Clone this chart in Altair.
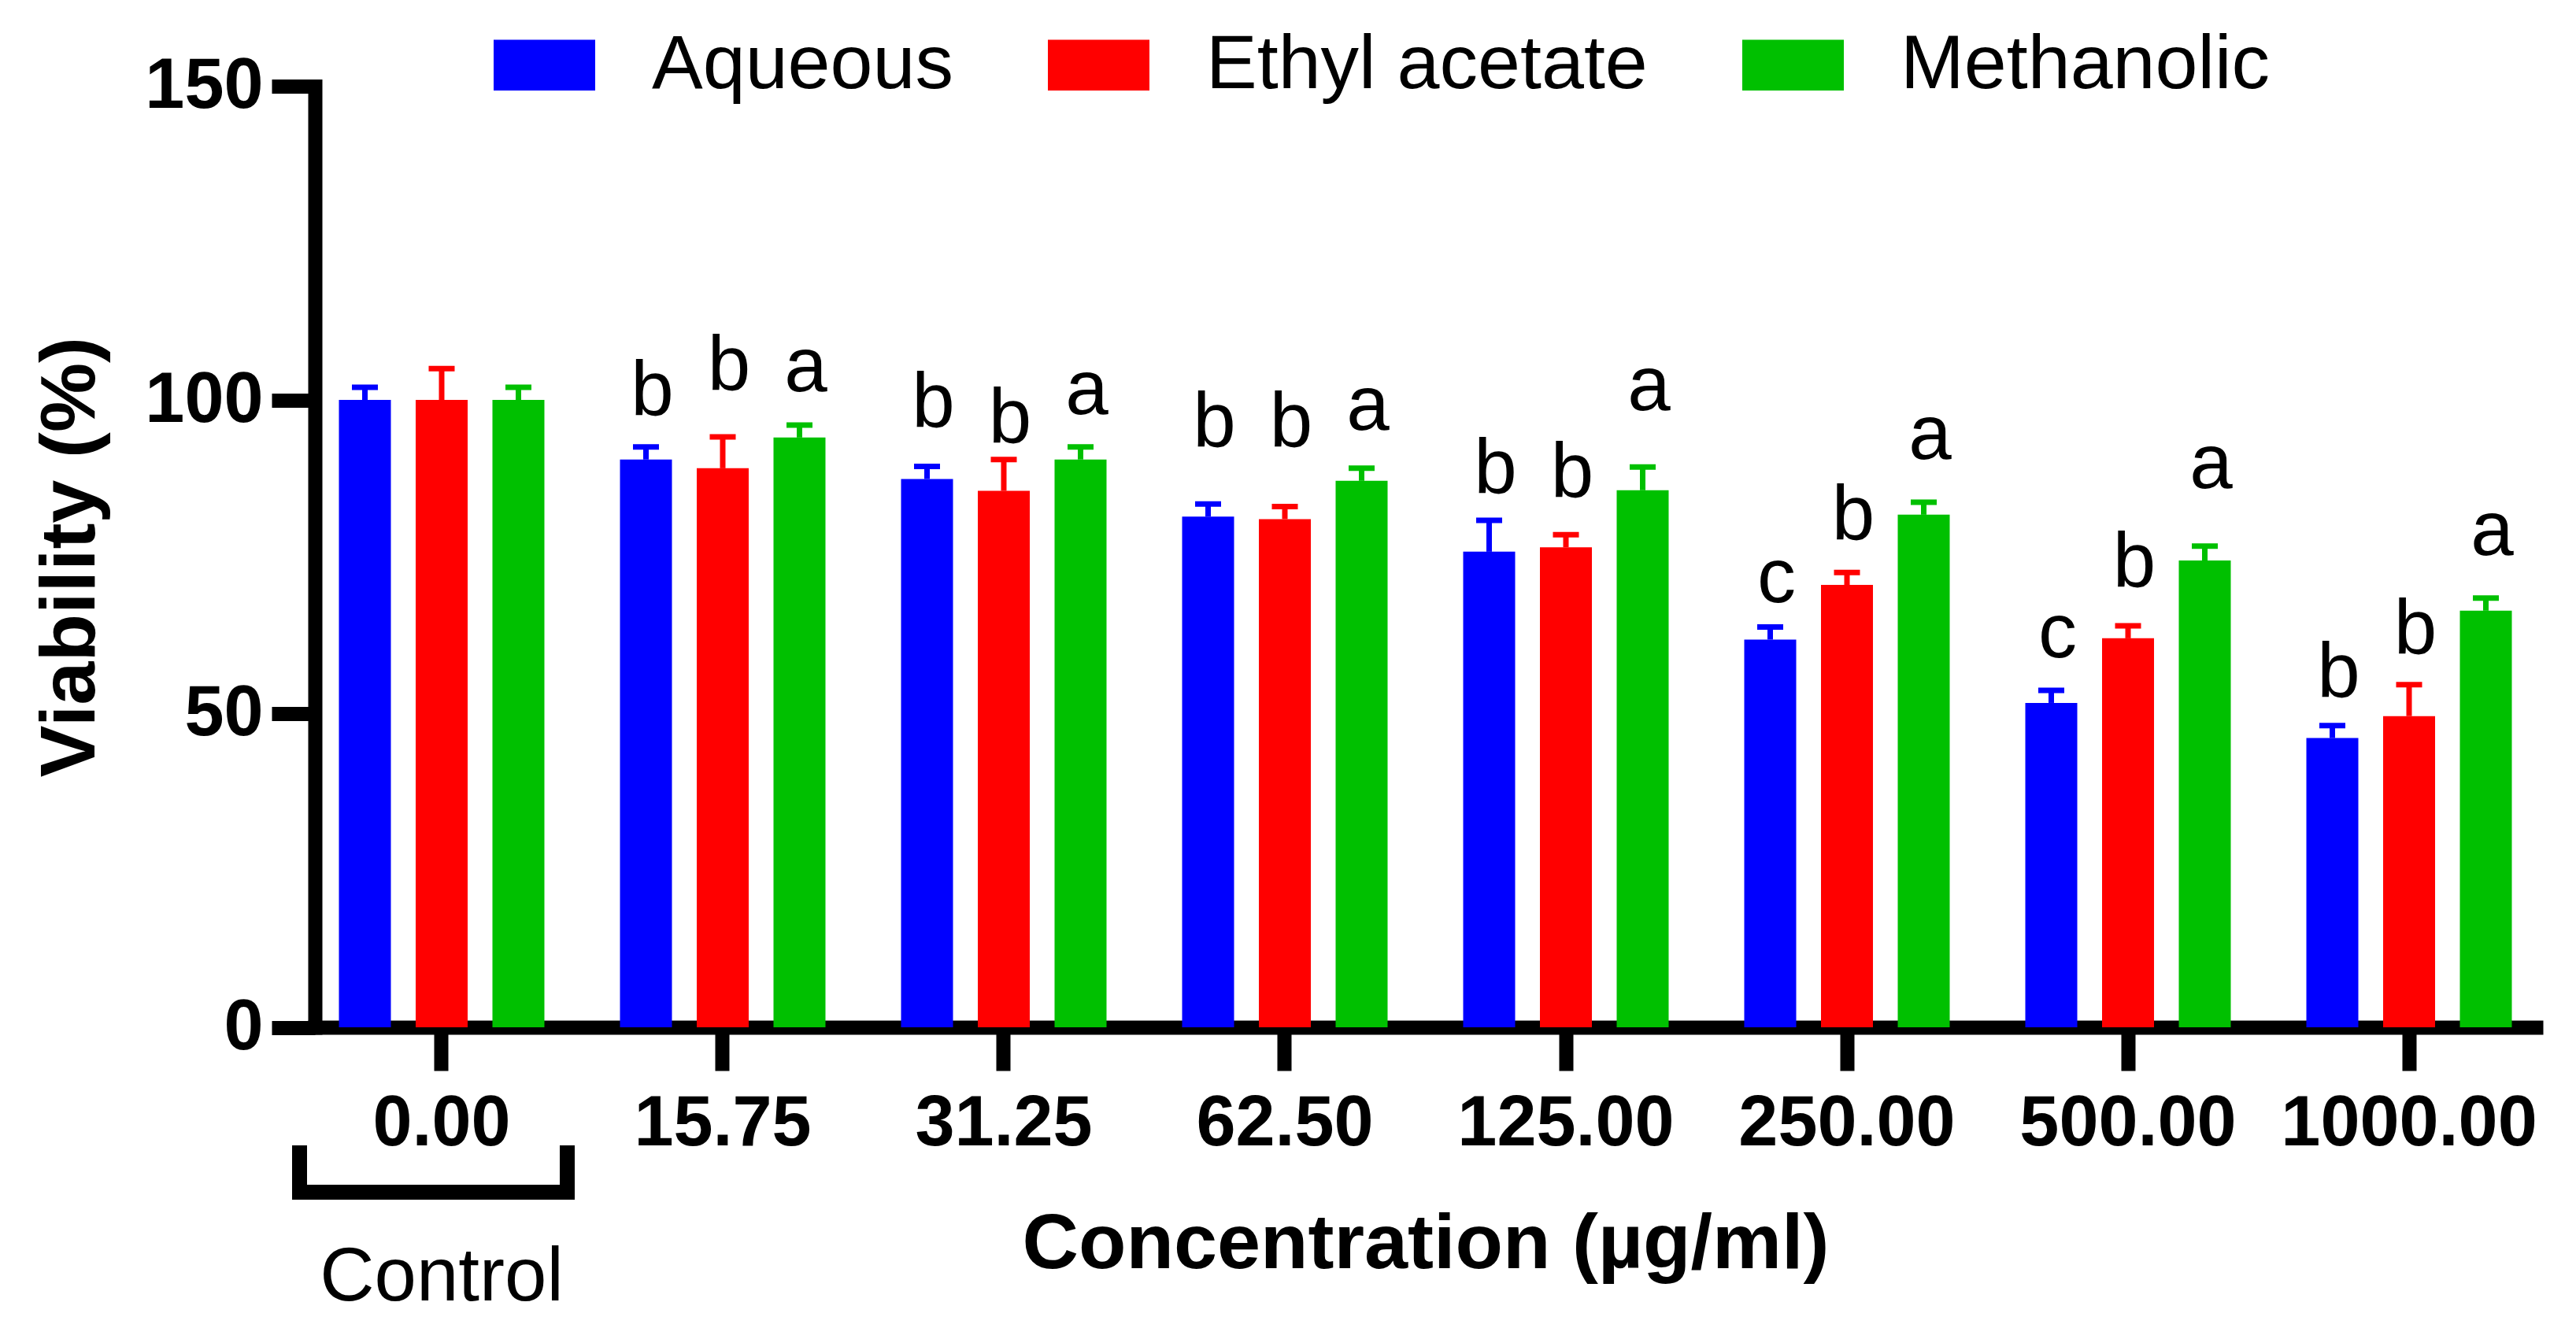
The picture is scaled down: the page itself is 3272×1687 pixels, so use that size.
import pandas as pd
import altair as alt

FONT = "Liberation Sans"

# categories
concentrations = ["0.00", "15.75", "31.25", "62.50", "125.00", "250.00", "500.00", "1000.00"]
extracts = ["Aqueous", "Ethyl acetate", "Methanolic"]
palette = ["#0000FF", "#FF0000", "#00C000"]

# mean viability (%)
aqueous = [100, 90.5, 87.4, 81.4, 75.8, 61.8, 51.7, 46.1]
ethyl_acetate = [100, 89.1, 85.5, 81.0, 76.5, 70.5, 62.0, 49.6]
methanolic = [100, 94.0, 90.5, 87.1, 85.6, 81.7, 74.4, 66.4]

# upper error (SD)
aqueous_err = [2, 2, 2, 2, 5, 2, 2, 2]
ethyl_acetate_err = [5, 5, 5, 2, 2, 2, 2, 5]
methanolic_err = [2, 2, 2, 2, 3.7, 2, 2.3, 2]

# significance letters and the height they sit at (in % units)
aqueous_letters = ["", "b", "b", "b", "b", "c", "c", "b"]
ethyl_acetate_letters = ["", "b", "b", "b", "b", "b", "b", "b"]
methanolic_letters = ["", "a", "a", "a", "a", "a", "a", "a"]
aqueous_letter_y = [0, 97.6, 95.7, 92.6, 85.2, 67.8, 59.0, 52.7]
ethyl_acetate_letter_y = [0, 101.6, 93.2, 92.6, 84.6, 77.8, 70.3, 59.6]
methanolic_letter_y = [0, 101.4, 97.7, 95.2, 98.4, 90.6, 85.9, 75.3]

series = {
    "Aqueous": (aqueous, aqueous_err, aqueous_letters, aqueous_letter_y),
    "Ethyl acetate": (ethyl_acetate, ethyl_acetate_err, ethyl_acetate_letters, ethyl_acetate_letter_y),
    "Methanolic": (methanolic, methanolic_err, methanolic_letters, methanolic_letter_y),
}

rows = []
for name, (vals, errs, lets, lety) in series.items():
    for c, v, e, l, ly in zip(concentrations, vals, errs, lets, lety):
        rows.append({"conc": c, "extract": name, "viability": v, "upper": v + e,
                     "letter": l, "letter_y": ly})
df = pd.DataFrame(rows)
df_letters = df[df["letter"] != ""]

x_enc = alt.X(
    "conc:N",
    sort=concentrations,
    scale=alt.Scale(paddingInner=0.1807, paddingOuter=0.0413),
    axis=alt.Axis(
        title="Concentration (µg/ml)",
        labelAngle=0,
        labelFontSize=90,
        labelFontWeight="bold",
        labelPadding=23,
        labelLimit=1000,
        labelOverlap=False,
        tickSize=55,
        tickWidth=18,
        domainWidth=18,
        domainCap="square",
        titleFontSize=99,
        titleFontWeight="bold",
        titleBaseline="alphabetic",
        titleY=305,
    ),
)

xoff_enc = alt.XOffset(
    "extract:N",
    sort=extracts,
    scale=alt.Scale(domain=extracts, paddingInner=0.323, paddingOuter=0.1615),
)

y_axis = alt.Axis(
    title="Viability (%)",
    values=[0, 50, 100, 150],
    labelFontSize=90,
    labelFontWeight="bold",
    labelPadding=11,
    labelFlush=False,
    labelOverlap=False,
    tickSize=55,
    tickWidth=18,
    domainWidth=18,
    domainCap="square",
    titleFontSize=99,
    titleFontWeight="bold",
    titleBaseline="alphabetic",
    titleX=-281,
    titleY=597.75,
)
y_scale = alt.Scale(domain=[0, 150], nice=False)


def y_enc(field):
    return alt.Y(field, scale=y_scale, axis=y_axis)


color_enc = alt.Color(
    "extract:N",
    sort=extracts,
    scale=alt.Scale(domain=extracts, range=palette),
    legend=alt.Legend(
        title=None,
        orient="none",
        legendX=227,
        legendY=-91.5,
        direction="horizontal",
        symbolType="M-1,-0.5H1V0.5H-1Z",
        symbolSize=16641,
        symbolStrokeWidth=0,
        symbolOpacity=1,
        labelFont=FONT,
        labelFontSize=97,
        labelOffset=72,
        labelLimit=1000,
        columnPadding=120,
        padding=0,
    ),
)

base = alt.Chart(df)

bars = base.mark_bar().encode(x=x_enc, xOffset=xoff_enc, y=y_enc("viability:Q"), color=color_enc)

stems = base.mark_rule(strokeWidth=7).encode(
    x=x_enc, xOffset=xoff_enc, y=y_enc("viability:Q"), y2="upper:Q", color=color_enc
)

caps = base.mark_tick(thickness=7, size=33, opacity=1).encode(
    x=x_enc, xOffset=xoff_enc, y=y_enc("upper:Q"), color=color_enc
)

letters = alt.Chart(df_letters).mark_text(
    baseline="alphabetic", align="center", dx=8, fontSize=98, font=FONT, color="black"
).encode(x=x_enc, xOffset=xoff_enc, y=y_enc("letter_y:Q"), text="letter:N")

# "Control" bracket under the 0.00 group
bracket_df = pd.DataFrame({"conc": ["0.00"], "label": ["Control"]})
bracket_base = alt.Chart(bracket_df)
bracket_bottom = bracket_base.mark_rule(strokeWidth=19, color="black", strokeCap="butt").encode(
    x=alt.value(-29), x2=alt.value(330), y=alt.value(1405)
)
bracket_left = bracket_base.mark_rule(strokeWidth=19, color="black", strokeCap="butt").encode(
    x=alt.value(-19.5), y=alt.value(1345.5), y2=alt.value(1414.5)
)
bracket_right = bracket_base.mark_rule(strokeWidth=19, color="black", strokeCap="butt").encode(
    x=alt.value(320.5), y=alt.value(1345.5), y2=alt.value(1414.5)
)
control_text = bracket_base.mark_text(
    baseline="alphabetic", align="center", fontSize=96, font=FONT, color="black"
).encode(x=x_enc, y=alt.value(1542.5), text="label:N")

chart = (
    alt.layer(bars, stems, caps, letters, bracket_bottom, bracket_left, bracket_right, control_text)
    .properties(
        width=2821,
        height=1195.5,
        autosize=alt.AutoSizeParams(type="none"),
        padding={"left": 392, "top": 101.5, "right": 30, "bottom": 369},
        background="white",
    )
    .configure_view(stroke=None)
    .configure_axis(
        grid=False,
        domainColor="black",
        tickColor="black",
        labelColor="black",
        titleColor="black",
        labelFont=FONT,
        titleFont=FONT,
    )
)

chart.save("out.html", embed_options={"renderer": "svg", "actions": False})
